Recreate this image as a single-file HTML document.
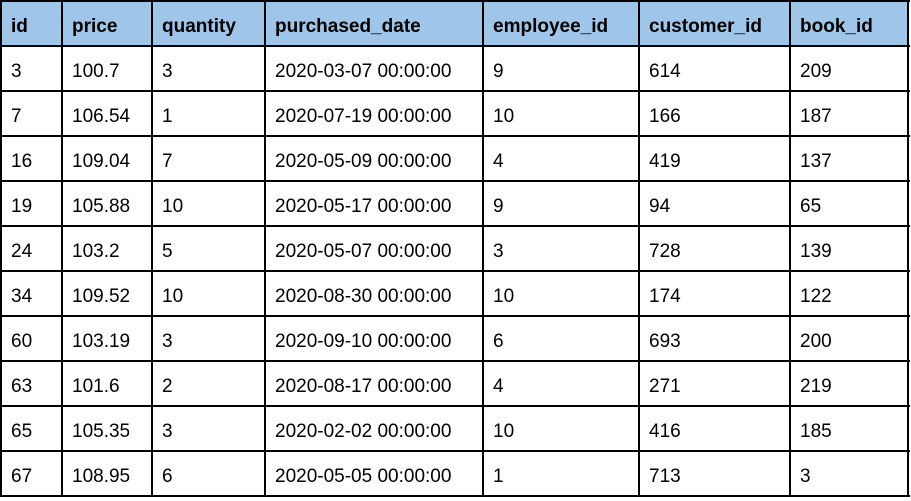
<!DOCTYPE html>
<html><head><meta charset="utf-8"><style>
body{margin:0;width:911px;height:501px;background:#fff;overflow:hidden;font-family:"Liberation Sans",Arial,sans-serif;}
#t{position:absolute;left:0;top:0;}
.c{position:absolute;box-sizing:border-box;font-size:19px;color:#000;padding-left:10px;padding-top:6px;display:flex;align-items:center;white-space:nowrap;}
.h{background:#9fc5e8;font-weight:bold;}
.vl{position:absolute;background:#000;width:2px;}
.hl{position:absolute;background:#000;height:2px;}
</style></head><body>
<div id="t"></div>
<script>
const cols=["id","price","quantity","purchased_date","employee_id","customer_id","book_id"];
const rows=[
["3","100.7","3","2020-03-07 00:00:00","9","614","209"],
["7","106.54","1","2020-07-19 00:00:00","10","166","187"],
["16","109.04","7","2020-05-09 00:00:00","4","419","137"],
["19","105.88","10","2020-05-17 00:00:00","9","94","65"],
["24","103.2","5","2020-05-07 00:00:00","3","728","139"],
["34","109.52","10","2020-08-30 00:00:00","10","174","122"],
["60","103.19","3","2020-09-10 00:00:00","6","693","200"],
["63","101.6","2","2020-08-17 00:00:00","4","271","219"],
["65","105.35","3","2020-02-02 00:00:00","10","416","185"],
["67","108.95","6","2020-05-05 00:00:00","1","713","3"]];
const xs=[1,62,152,265,483,639,790,908];
const y0=1,rh=45;
const t=document.getElementById('t');
function cell(x,y,w,h,txt,hdr){const d=document.createElement('div');d.className='c'+(hdr?' h':'');
d.style.left=x+'px';d.style.top=y+'px';d.style.width=w+'px';d.style.height=h+'px';d.textContent=txt;
if(hdr){}else{}

t.appendChild(d);}
cols.forEach((c,i)=>cell(xs[i],y0,xs[i+1]-xs[i],rh,c,true));
rows.forEach((r,j)=>r.forEach((v,i)=>cell(xs[i],y0+rh*(j+1),xs[i+1]-xs[i],rh,v,false)));
const H=rh*(rows.length+1);
xs.forEach(x=>{const l=document.createElement('div');l.className='vl';l.style.left=(x-1)+'px';l.style.top=(y0-1)+'px';l.style.height=(H+2)+'px';


t.appendChild(l);});
for(let j=0;j<=rows.length+1;j++){const l=document.createElement('div');l.className='hl';l.style.left='0px';l.style.width='910px';l.style.top=(y0+rh*j-1)+'px';


t.appendChild(l);}
</script>
</body></html>
